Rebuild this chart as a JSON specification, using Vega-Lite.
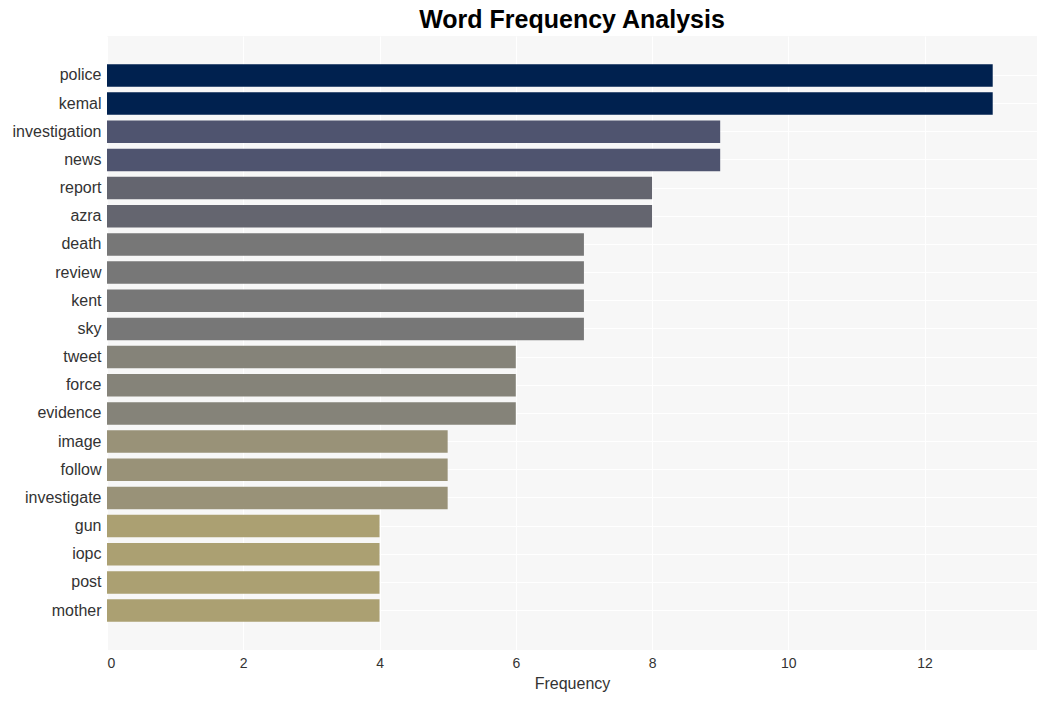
{
  "$schema": "https://vega.github.io/schema/vega-lite/v6.json",
  "width": 1047,
  "height": 701,
  "autosize": {"type": "fit", "contains": "padding"},
  "padding": {"left": 12, "right": 10, "top": 8, "bottom": 10},
  "background": "white",
  "title": {
    "text": "Word Frequency Analysis",
    "font": "Liberation Sans",
    "fontSize": 25,
    "fontWeight": "bold",
    "color": "#000000",
    "anchor": "middle",
    "offset": 3
  },
  "config": {
    "view": {"fill": "#f7f7f7", "stroke": null},
    "font": "Liberation Sans"
  },
  "data": {
    "values": [
      {"word": "police", "count": 13},
      {"word": "kemal", "count": 13},
      {"word": "investigation", "count": 9},
      {"word": "news", "count": 9},
      {"word": "report", "count": 8},
      {"word": "azra", "count": 8},
      {"word": "death", "count": 7},
      {"word": "review", "count": 7},
      {"word": "kent", "count": 7},
      {"word": "sky", "count": 7},
      {"word": "tweet", "count": 6},
      {"word": "force", "count": 6},
      {"word": "evidence", "count": 6},
      {"word": "image", "count": 5},
      {"word": "follow", "count": 5},
      {"word": "investigate", "count": 5},
      {"word": "gun", "count": 4},
      {"word": "iopc", "count": 4},
      {"word": "post", "count": 4},
      {"word": "mother", "count": 4}
    ]
  },
  "mark": {"type": "bar"},
  "encoding": {
    "y": {
      "field": "word",
      "type": "nominal",
      "sort": null,
      "scale": {"paddingInner": 0.2, "paddingOuter": 1.05},
      "axis": {
        "title": null,
        "domain": false,
        "ticks": false,
        "labelFontSize": 16,
        "labelColor": "#333333",
        "labelPadding": 6,
        "grid": true,
        "gridColor": "#ffffff",
        "gridWidth": 1
      }
    },
    "x": {
      "field": "count",
      "type": "quantitative",
      "scale": {"domain": [0, 13.65], "nice": false},
      "axis": {
        "title": "Frequency",
        "titleFontSize": 16,
        "titleFontWeight": "normal",
        "titleColor": "#333333",
        "titlePadding": 5,
        "values": [0, 2, 4, 6, 8, 10, 12],
        "domain": false,
        "ticks": false,
        "labelFontSize": 14,
        "labelColor": "#333333",
        "labelPadding": 6,
        "grid": true,
        "gridColor": "#ffffff",
        "gridWidth": 1
      }
    },
    "color": {
      "field": "count",
      "type": "ordinal",
      "scale": {
        "domain": [4, 5, 6, 7, 8, 9, 13],
        "range": ["#aba072", "#999278", "#858379", "#777777", "#64656f", "#4f546f", "#00214f"]
      },
      "legend": null
    }
  }
}
